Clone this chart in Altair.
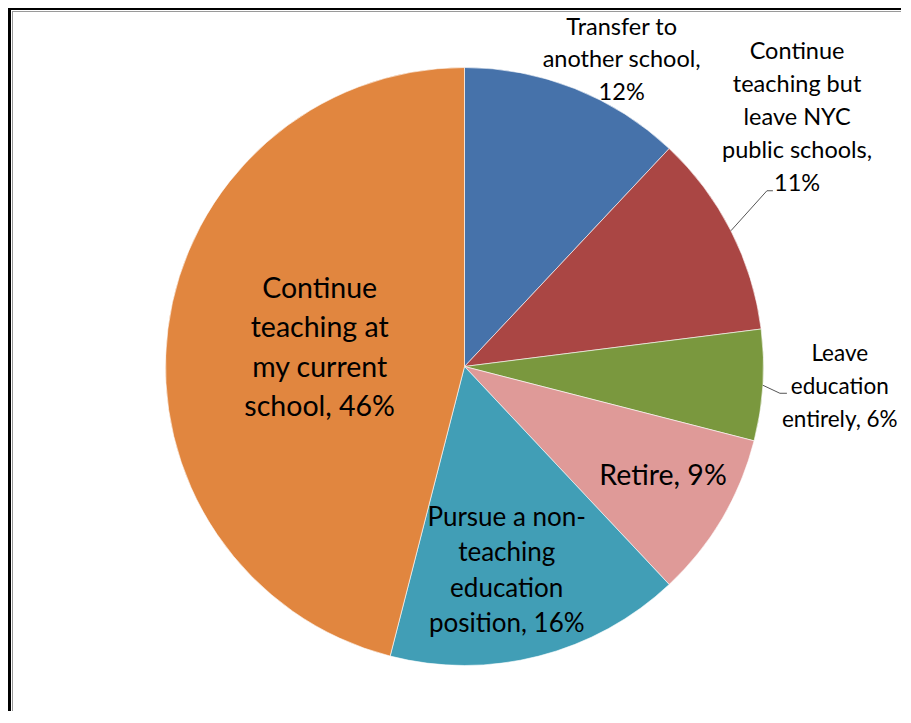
import altair as alt
import pandas as pd
import numpy as np

labels = [
    "Transfer to another school",
    "Continue teaching but leave NYC public schools",
    "Leave education entirely",
    "Retire",
    "Pursue a non-teaching education position",
    "Continue teaching at my current school",
]
values = [12, 11, 6, 9, 16, 46]
label_text = [
    "Transfer to\nanother school,\n12%",
    "Continue\nteaching but\nleave NYC\npublic schools,\n11%",
    "Leave\neducation\nentirely, 6%",
    "Retire, 9%",
    "Pursue a non-\nteaching\neducation\nposition, 16%",
    "Continue\nteaching at\nmy current\nschool, 46%",
]
colors = ["#4672AA", "#AA4644", "#7A983E", "#DF9A98", "#419EB6", "#E1863F"]

# layout / style (pixels)
CX, CY, R = 456.5, 358.5, 299
W, H = 893, 703
TOTAL = float(sum(values))

cum = np.cumsum(values) - np.array(values) / 2.0
df = pd.DataFrame({
    "label": labels,
    "value": values,
    "order": list(range(len(values))),
    "text": label_text,
    "mid": cum,
})

theta_scale = alt.Scale(domain=[0, TOTAL], range=[0, 2 * np.pi])

base = alt.Chart(df)

pie = base.mark_arc(radius=R, stroke="white", strokeWidth=0.6).encode(
    theta=alt.Theta("value:Q", stack=True, scale=theta_scale),
    color=alt.Color("label:N", scale=alt.Scale(domain=labels, range=colors), legend=None),
    order=alt.Order("order:Q"),
    x=alt.value(CX),
    y=alt.value(CY),
)

# label style: (radius, dx, dy, fontSize, lineHeight)
label_style = {
    labels[0]: (340, 32, 10, 23.5, 32.5),
    labels[1]: (380, -6, -76, 23.5, 33),
    labels[2]: (380, -4, -3, 22.5, 33),
    labels[3]: (226, 4, -6, 28.5, 39),
    labels[4]: (206, -9, 5, 26, 35.5),
    labels[5]: (146, 0, 0, 28.5, 39.5),
}

text_layers = []
for lab, txt in zip(labels, label_text):
    r, dx, dy, fs, lh = label_style[lab]
    n_lines = txt.count("\n") + 1
    t = base.transform_filter(alt.datum.label == lab).mark_text(
        radius=r, dx=dx, dy=dy - (n_lines - 1) * lh / 2.0, fontSize=fs,
        lineHeight=lh, font="Lato",
        align="center", baseline="middle", lineBreak="\n", color="#000000",
    ).encode(
        theta=alt.Theta("mid:Q", stack=None, scale=theta_scale),
        text="text:N",
        x=alt.value(CX),
        y=alt.value(CY),
    )
    text_layers.append(t)

# leader lines for the two outside labels (start on the slice edge at mid angle)
leader_offsets = {
    labels[1]: [(36, -40), (42, -40)],
    labels[2]: [(17, 8), (24, 8)],
}
rows = []
for lab, offs in leader_offsets.items():
    i = labels.index(lab)
    ang = df["mid"][i] / TOTAL * 2 * np.pi
    ex, ey = CX + R * np.sin(ang), CY - R * np.cos(ang)
    rows.append({"seg": lab, "k": 0, "px": ex, "py": ey})
    for k, (ox, oy) in enumerate(offs, start=1):
        rows.append({"seg": lab, "k": k, "px": ex + ox, "py": ey + oy})
lead_df = pd.DataFrame(rows)

leaders = alt.Chart(lead_df).mark_line(color="#555555", strokeWidth=1).encode(
    x=alt.X("px:Q", scale=None, axis=None),
    y=alt.Y("py:Q", scale=None, axis=None),
    detail="seg:N",
    order="k:Q",
)

frame_outer = alt.Chart(df).mark_rect(
    fill=None, filled=False, stroke="#000000", strokeWidth=3
).encode(x=alt.value(1.5), y=alt.value(0.5), x2=alt.value(W + 20), y2=alt.value(H + 20))
frame_inner = alt.Chart(df).mark_rect(
    fill=None, filled=False, stroke="#9a9a9a", strokeWidth=1
).encode(x=alt.value(4.5), y=alt.value(3.5), x2=alt.value(W + 20), y2=alt.value(H + 20))

chart = alt.layer(pie, leaders, *text_layers, frame_outer, frame_inner).properties(
    width=W, height=H, autosize="none", padding=0, background="white"
).configure_view(stroke=None)

chart.save("out.html", embed_options={"renderer": "svg", "actions": False})
